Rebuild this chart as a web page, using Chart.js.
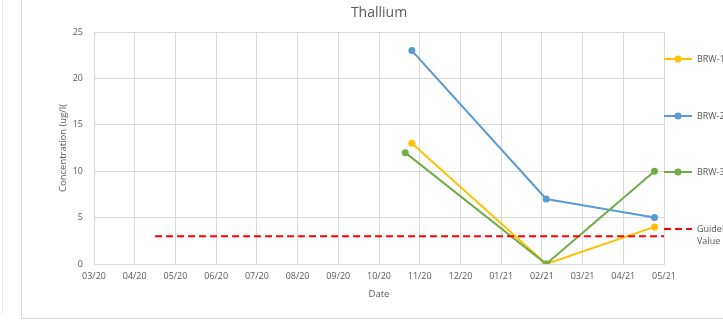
<!DOCTYPE html>
<html>
<head>
<meta charset="utf-8">
<script src="https://cdn.jsdelivr.net/npm/chart.js@4"></script>
<style>
    html, body { margin: 0; padding: 0; background: #fff; overflow: hidden; width: 723px; height: 334px; }
    #wrap { position: absolute; left: 0; top: 0; width: 723px; height: 334px; overflow: hidden; }
    #frameA { position: absolute; left: 2px; top: 0; height: 314px; border-left: 1px solid #e6e6e6; }
    #frameB { position: absolute; left: 21px; top: 0; width: 702px; height: 318px; border-left: 1px solid #d9d9d9; border-bottom: 1px solid #d9d9d9; }
    canvas { position: absolute; left: 0; top: 0; }
</style>
</head>
<body>
<div id="wrap">
    <div id="frameA"></div>
    <div id="frameB"></div>
    <canvas id="chart" width="760" height="334"></canvas>
</div>
<script>
// Chart data
const chartTitle = 'Thallium';
const monthLabels = ['03/20', '04/20', '05/20', '06/20', '07/20', '08/20', '09/20', '10/20',
                     '11/20', '12/20', '01/21', '02/21', '03/21', '04/21', '05/21'];
const yTicks = [0, 5, 10, 15, 20, 25];

const seriesNames = ['BRW-1', 'BRW-2', 'BRW-3'];
const brw1Dates = ['2020-10-26', '2021-02-04', '2021-04-24'];
const brw2Dates = ['2020-10-26', '2021-02-04', '2021-04-24'];
const brw3Dates = ['2020-10-21', '2021-02-04', '2021-04-24'];
const brw1Values = [13, 0, 4];
const brw2Values = [23, 7, 5];
const brw3Values = [12, 0, 10];

const guidelineName = 'Guideline Value';
const guidelineDates = ['2020-04-16', '2021-05-01'];
const guidelineValues = [3, 3];

const seriesColors = ['#FFC000', '#5B9BD5', '#70AD47'];
const guidelineColor = '#FF0000';
const textColor = '#595959';
const gridColor = '#d9d9d9';
const fontFamily = "'Open Sans', sans-serif";

// Position of a date on the month axis (03/20 = 0), each month equal width
function monthPos(s) {
    const [y, m, d] = s.split('-').map(Number);
    const days = new Date(y, m, 0).getDate();
    return (y - 2020) * 12 + (m - 3) + (d - 1) / days;
}

function toPoints(dates, values) {
    return dates.map((d, i) => ({ x: monthPos(d), y: values[i] }));
}

const seriesData = [
    toPoints(brw1Dates, brw1Values),
    toPoints(brw2Dates, brw2Values),
    toPoints(brw3Dates, brw3Values)
];

const datasets = seriesNames.map((name, i) => ({
    label: name,
    data: seriesData[i],
    borderColor: seriesColors[i],
    backgroundColor: seriesColors[i],
    borderWidth: 2,
    pointRadius: 3.5,
    pointBorderWidth: 0,
    pointHoverRadius: 3.5,
    order: 3 - i
}));

datasets.push({
    label: guidelineName,
    data: toPoints(guidelineDates, guidelineValues),
    borderColor: guidelineColor,
    backgroundColor: guidelineColor,
    borderWidth: 2,
    borderDash: [7, 4],
    pointRadius: 0,
    order: 0
});

// Title centred on the plot area
const titlePlugin = {
    id: 'plotTitle',
    afterDraw: (chart) => {
        const ctx = chart.ctx;
        const area = chart.chartArea;
        ctx.save();
        ctx.font = `14px ${fontFamily}`;
        ctx.fillStyle = textColor;
        ctx.textAlign = 'center';
        ctx.textBaseline = 'middle';
        ctx.fillText(chartTitle, (area.left + area.right) / 2, 13);
        ctx.restore();
    }
};

// Legend to the right of the plot, like Excel's
const legendPlugin = {
    id: 'sideLegend',
    afterDraw: (chart) => {
        const ctx = chart.ctx;
        const x0 = chart.chartArea.right;
        const rowsY = [59, 116, 172, 229];
        ctx.save();
        ctx.font = `9px ${fontFamily}`;
        ctx.textBaseline = 'middle';
        chart.data.datasets.forEach((ds, i) => {
            const y = rowsY[i];
            ctx.strokeStyle = ds.borderColor;
            ctx.lineWidth = 2;
            ctx.setLineDash(ds.borderDash || []);
            ctx.beginPath();
            ctx.moveTo(x0, y);
            ctx.lineTo(x0 + 28, y);
            ctx.stroke();
            ctx.setLineDash([]);
            if (ds.pointRadius > 0) {
                ctx.fillStyle = ds.backgroundColor;
                ctx.beginPath();
                ctx.arc(x0 + 14, y, 3.5, 0, Math.PI * 2);
                ctx.fill();
            }
            ctx.fillStyle = textColor;
            const words = ds.label.split(' ');
            words.forEach((w, j) => ctx.fillText(w, x0 + 33, y + j * 12));
        });
        ctx.restore();
    }
};

new Chart(document.getElementById('chart'), {
    type: 'line',
    data: { datasets: datasets },
    options: {
        responsive: false,
        animation: false,
        events: [],
        layout: { padding: { top: 32, right: 96, left: 0, bottom: 0 } },
        plugins: {
            legend: { display: false },
            title: { display: false },
            tooltip: { enabled: false }
        },
        scales: {
            x: {
                type: 'linear',
                min: 0,
                max: monthLabels.length - 1,
                afterBuildTicks: (scale) => {
                    scale.ticks = monthLabels.map((_, i) => ({ value: i }));
                },
                ticks: {
                    autoSkip: false,
                    maxRotation: 0,
                    padding: 7,
                    color: textColor,
                    font: { family: fontFamily, size: 9 },
                    callback: (v) => monthLabels[Math.round(v)]
                },
                grid: { color: gridColor, drawTicks: false },
                border: { color: gridColor },
                title: {
                    display: true,
                    text: 'Date',
                    color: textColor,
                    font: { family: fontFamily, size: 9.5 },
                    padding: { top: 0, bottom: 34 }
                },
                afterFit: (scale) => { scale.height = 70; }
            },
            y: {
                min: 0,
                max: 25,
                afterBuildTicks: (scale) => {
                    scale.ticks = yTicks.map(v => ({ value: v }));
                },
                ticks: {
                    padding: 11,
                    color: textColor,
                    font: { family: fontFamily, size: 9 }
                },
                grid: { color: gridColor, drawTicks: false },
                border: { color: gridColor },
                title: {
                    display: true,
                    text: 'Concentration (ug/l(',
                    color: textColor,
                    font: { family: fontFamily, size: 9.5 },
                    padding: { top: 58, bottom: 0 }
                },
                afterFit: (scale) => { scale.width = 94; }
            }
        }
    },
    plugins: [titlePlugin, legendPlugin]
});
</script>
</body>
</html>
